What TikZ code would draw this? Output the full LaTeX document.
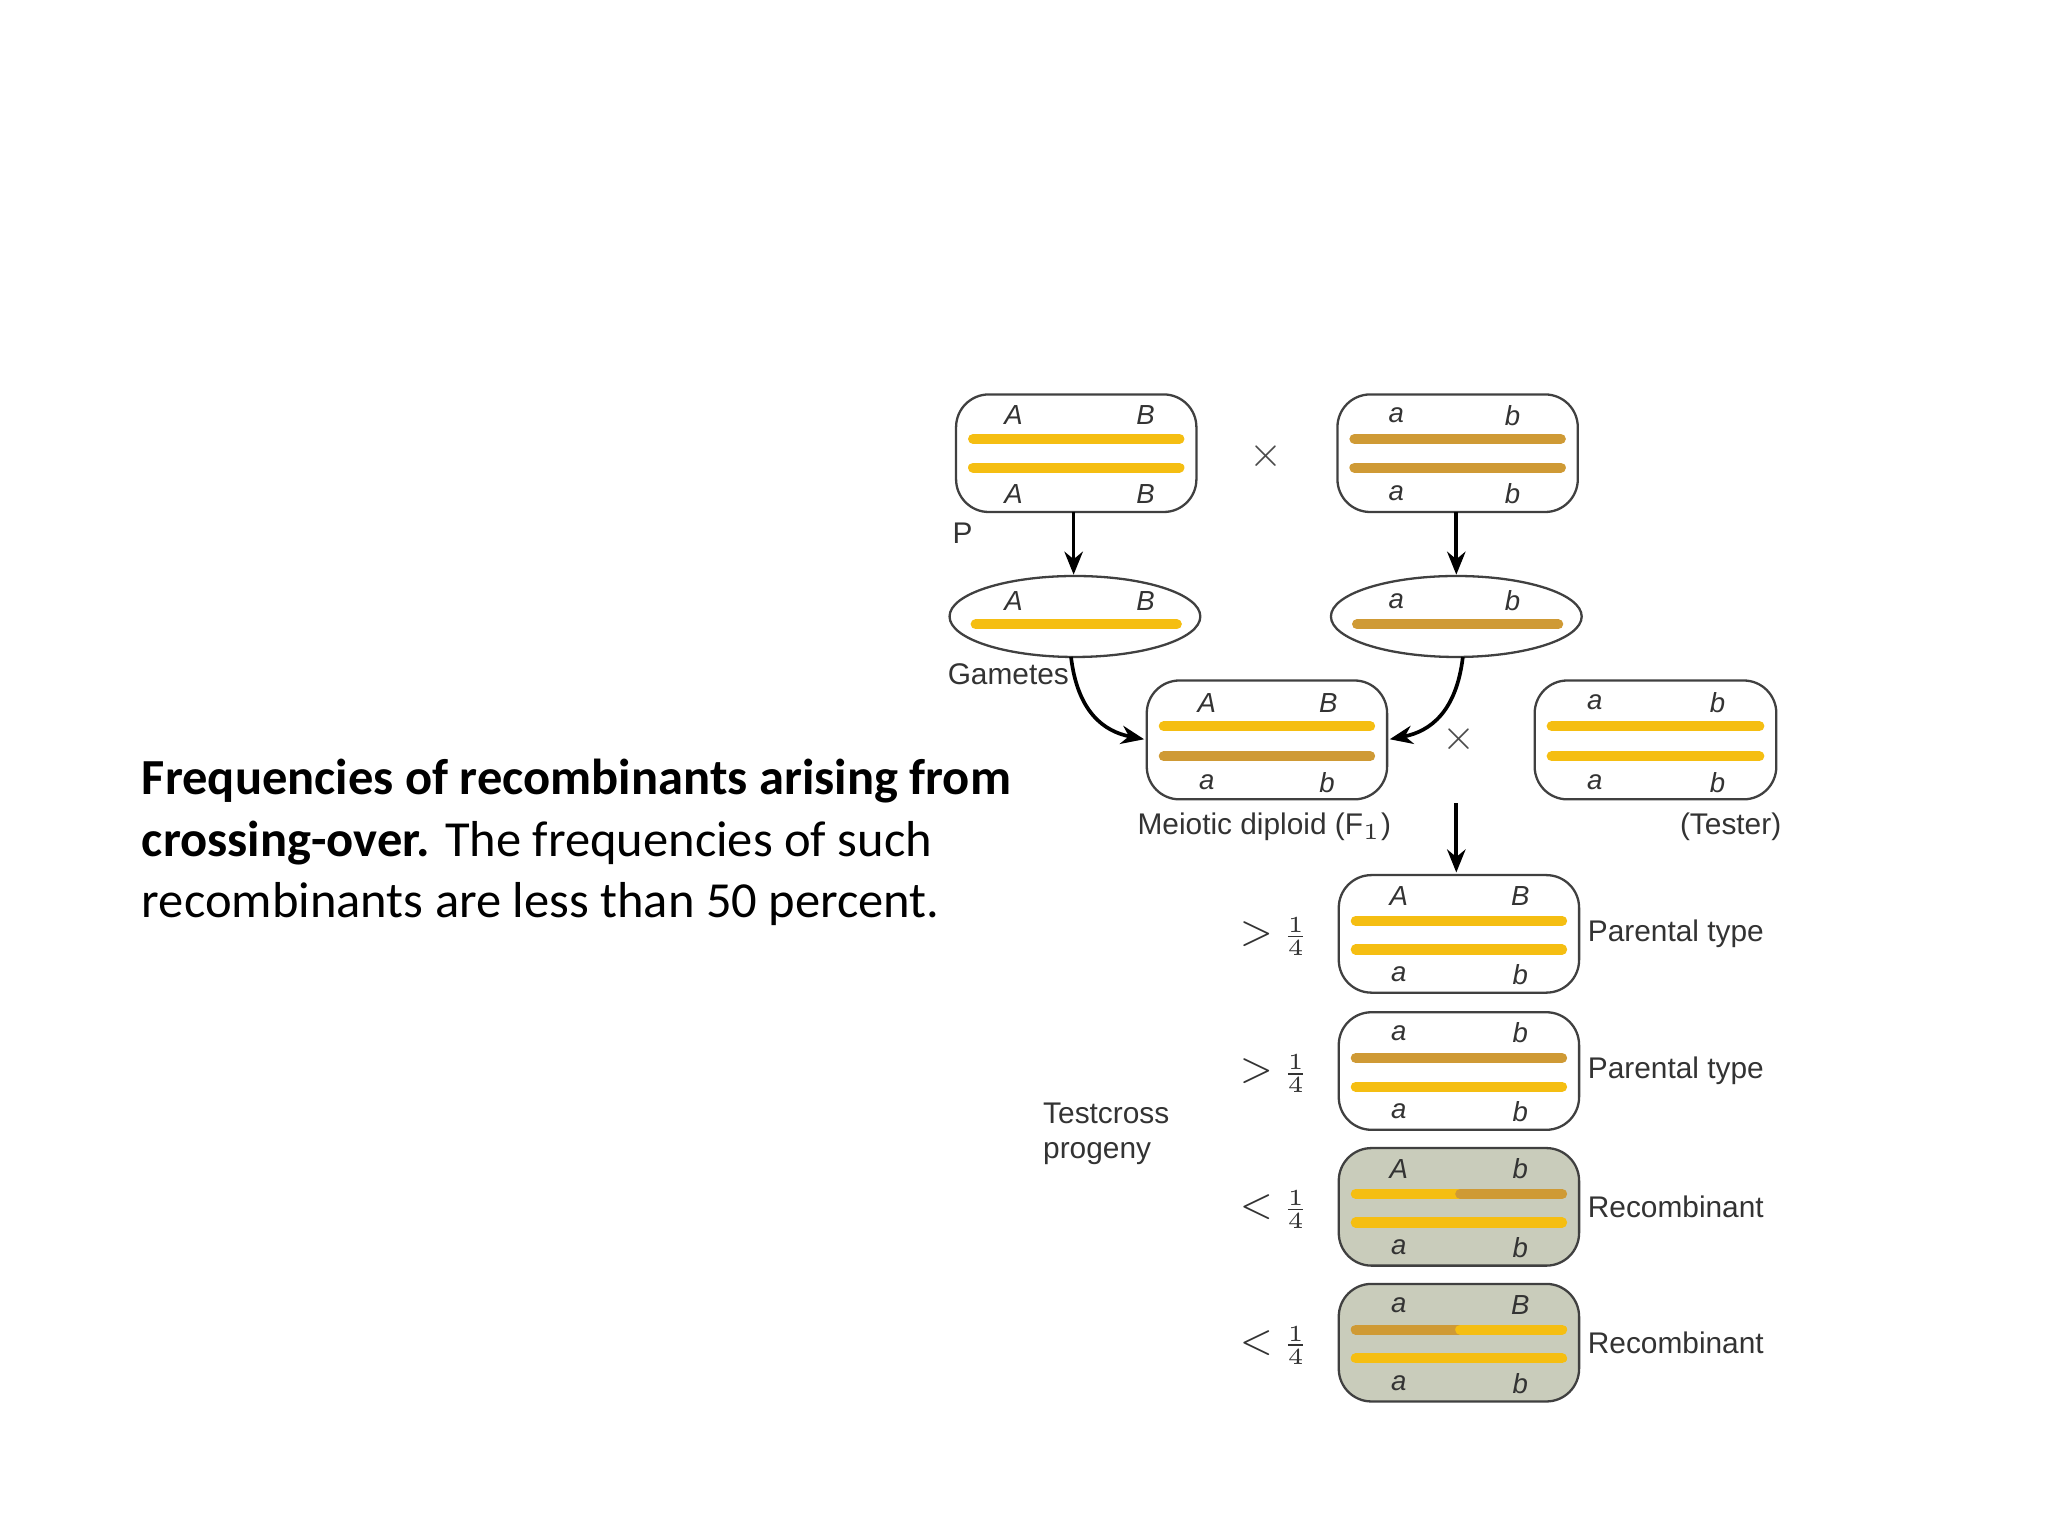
\documentclass[tikz,border=0pt]{standalone}
\usepackage{fontspec}
\setmainfont{Liberation Sans}
\newfontfamily\carlito{Carlito}
\usetikzlibrary{arrows.meta}
\definecolor{yel}{HTML}{F5BE12}
\definecolor{brn}{HTML}{CF9A35}
\definecolor{shade}{HTML}{C9CCBB}
\tikzset{
 box/.style={draw=black!75,line width=0.5pt,rounded corners=2.5mm},
 bar/.style={line width=2.2pt,line cap=round},
 lab/.style={font=\fontsize{6}{7}\selectfont\itshape,text=black!80,inner sep=0},
 txt/.style={font=\fontsize{6}{7}\selectfont,text=black!80,inner sep=0},
 arr/.style={-{Stealth[length=5pt,width=4pt]},line width=0.8pt},
}
\begin{document}
\begin{tikzpicture}[x=0.01cm,y=-0.01cm]
\useasboundingbox (0,0) rectangle (1568,1176);
\node[anchor=west,inner sep=0,font=\carlito\fontsize{11}{13.4}\selectfont,align=left] (cap) at (108,645)
 {\textbf{Frequencies of recombinants arising from}\\\textbf{crossing-over.} The frequencies of such\\recombinants are less than 50 percent.};
\draw[box] (732,302) rectangle (916,392);
\node[lab] (p1a) at (776,318) {A}; \node[lab] (p1b) at (877,318) {B};
\draw[bar,yel] (745,336) -- (903,336); \draw[bar,yel] (745,358) -- (903,358);
\node[lab] (p1c) at (776,378) {A}; \node[lab] (p1d) at (877,378) {B};
\node[font=\fontsize{9}{9}\selectfont,text=black!70] (x1) at (969,349) {$\times$};
\draw[box] (1024,302) rectangle (1208,392);
\node[lab] (p2a) at (1069,318) {a}; \node[lab] (p2b) at (1158,318) {b};
\draw[bar,brn] (1037,336) -- (1195,336); \draw[bar,brn] (1037,358) -- (1195,358);
\node[lab] (p2c) at (1069,378) {a}; \node[lab] (p2d) at (1158,378) {b};
\node[txt,font=\fontsize{6.5}{8}\selectfont] (Plab) at (737,408) {P};
\draw[line width=0.5pt,black!75] (823,472) ellipse [x radius=96,y radius=31];
\coordinate (g1) at (820,503);
\node[lab] (g1a) at (776,460) {A}; \node[lab] (g1b) at (877,460) {B};
\draw[bar,yel] (747,478) -- (901,478);
\draw[line width=0.5pt,black!75] (1115,472) ellipse [x radius=96,y radius=31];
\coordinate (g2) at (1120,503);
\node[lab] (g2a) at (1069,460) {a}; \node[lab] (g2b) at (1158,460) {b};
\draw[bar,brn] (1039,478) -- (1193,478);
\coordinate (a1s) at (822,392); \coordinate (a1e) at (822,440);
\coordinate (a2s) at (1115,392); \coordinate (a2e) at (1115,440);
\draw[arr] (a1s) -- (a1e); \draw[arr] (a2s) -- (a2e);
\node[txt,font=\fontsize{6.5}{8}\selectfont] (gam) at (772,516) {Gametes};
\draw[box] (878,521) rectangle (1062,612);
\coordinate (f1l) at (876,566); \coordinate (f1r) at (1064,566);
\node[lab] (fa) at (924,538) {A}; \node[lab] (fb) at (1017,538) {B};
\draw[bar,yel] (891,556) -- (1049,556); \draw[bar,brn] (891,579) -- (1049,579);
\node[lab] (fc) at (924,599) {a}; \node[lab] (fd) at (1016,599) {b};
\draw[arr] (g1) .. controls (825,545) and (845,560) .. (f1l);
\draw[arr] (g2) .. controls (1115,545) and (1095,560) .. (f1r);
\node[font=\fontsize{9}{9}\selectfont,text=black!70] (x2) at (1117,566) {$\times$};
\draw[box] (1175,521) rectangle (1360,612);
\node[lab] (ta) at (1221,538) {a}; \node[lab] (tb) at (1315,538) {b};
\draw[bar,yel] (1188,556) -- (1347,556); \draw[bar,yel] (1188,579) -- (1347,579);
\node[lab] (tc) at (1221,599) {a}; \node[lab] (td) at (1315,599) {b};
\node[txt,font=\fontsize{6.5}{8}\selectfont] (md) at (968,633) {Meiotic diploid (F$_1$)};
\node[txt,font=\fontsize{6.5}{8}\selectfont] (tl) at (1325,633) {(Tester)};
\coordinate (a3s) at (1115,615); \coordinate (a3e) at (1115,668);
\draw[arr] (a3s) -- (a3e);
\foreach \y/\ta/\tb/\ca/\cb/\fill/\sym/\name in {
 670/A/B/yel/yel/white/>/Parental type,
 775/a/b/brn/brn/white/>/Parental type,
 879/A/b/yel/brn/shade/</Recombinant,
 983/a/B/brn/yel/shade/</Recombinant}{
 \draw[box,fill=\fill] (1025,\y) rectangle (1209,\y+90);
 \node[lab] at (1071,\y+16) {\ta}; \node[lab] at (1164,\y+16) {\tb};
 \draw[bar,\ca] (1038,\y+35) -- (1118,\y+35);
 \draw[bar,\cb] (1118,\y+35) -- (1196,\y+35);
 \draw[bar,yel] (1038,\y+57) -- (1196,\y+57);
 \node[lab] at (1071,\y+76) {a}; \node[lab] at (1164,\y+76) {b};
 \node[txt,font=\fontsize{9}{9}\selectfont] at (962,\y+45) {$\sym$};
 \node[txt,font=\fontsize{6}{6}\selectfont] at (992,\y+47) {$\frac{1}{4}$};
 \node[txt,font=\fontsize{6.5}{8}\selectfont,anchor=west] at (1215,\y+45) {\name};
}
\node[txt,font=\fontsize{6.5}{7.5}\selectfont,anchor=west,align=left] (tp) at (798,868) {Testcross\\progeny};
\end{tikzpicture}
\end{document}
